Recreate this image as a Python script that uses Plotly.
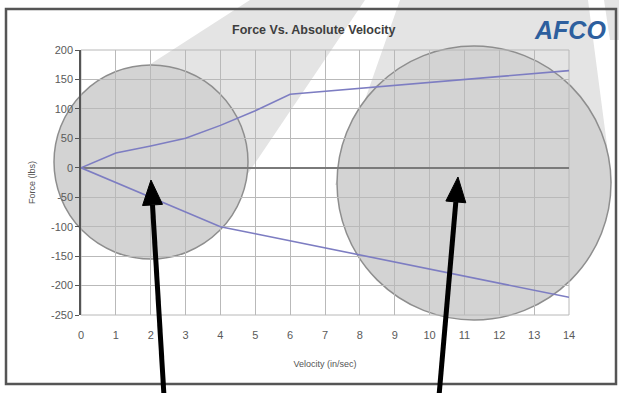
import plotly.graph_objects as go

# data
velocity = list(range(15))
force_rebound = [0, 25, 37, 50, 72, 97, 125, 130, 135, 140, 145, 150, 155, 160, 165]
force_compression = [0, -25, -50, -75, -100, -112, -124, -136, -148, -160, -172, -184, -196, -208, -220]
x_ticks = list(range(15))
y_ticks = [200, 150, 100, 50, 0, -50, -100, -150, -200, -250]

W, H = 619, 393
L, R, T, B = 81, 569, 50, 315  # plot area in pixels


def px(x, y):
    # pixel -> paper
    return (x - L) / (R - L), (B - y) / (B - T)


def poly(points):
    pts = [px(x, y) for x, y in points]
    return "M " + " L ".join(f"{a:.4f},{b:.4f}" for a, b in pts) + " Z"


def circle(cx, cy, r):
    x0, y0 = px(cx - r, cy + r)
    x1, y1 = px(cx + r, cy - r)
    return dict(type="circle", xref="paper", yref="paper", x0=x0, y0=y0, x1=x1, y1=y1,
                fillcolor="#d3d3d3", line=dict(color="#8e8e8e", width=1.5), layer="below")


def arrow(tip, tail, head=25, half=10):
    dx, dy = tail[0] - tip[0], tail[1] - tip[1]
    n = (dx * dx + dy * dy) ** 0.5
    ux, uy = dx / n, dy / n
    bx, by = tip[0] + head * ux, tip[1] + head * uy
    shaft = dict(type="path", xref="paper", yref="paper", layer="above",
                 path=poly([(bx, by), tail])[:-2], line=dict(color="black", width=5))
    tri = dict(type="path", xref="paper", yref="paper", layer="above",
               path=poly([tip, (bx - half * uy, by + half * ux), (bx + half * uy, by - half * ux)]),
               fillcolor="black", line=dict(color="black", width=1))
    return [shaft, tri]


beam = dict(type="path", xref="paper", yref="paper", fillcolor="#e4e4e4",
            line=dict(width=0), layer="below")
shapes = [
    {**beam, "path": poly([(250, 0), (365, 0), (245, 178), (151, 162), (76, 112)])},
    {**beam, "path": poly([(400, 0), (588, 0), (612, 183), (474, 183), (335, 185)])},
    {**beam, "path": poly([(604, 0), (619, 0), (619, 40), (610, 40)])},
    circle(151, 162, 97),
    circle(474, 183, 137),
    dict(type="rect", xref="paper", yref="paper", layer="below",
         x0=px(6, 0)[0], x1=px(616, 0)[0], y0=px(0, 384)[1], y1=px(0, 9)[1],
         line=dict(color="#555555", width=2.5)),
    dict(type="rect", xref="paper", yref="paper", layer="below",
         x0=0, x1=1, y0=0, y1=1, line=dict(color="#b8b8b8", width=1)),
]
shapes += arrow((151, 180), (164, 396))
shapes += arrow((458, 177), (439, 396))

fig = go.Figure()
fig.add_trace(go.Scatter(x=velocity, y=force_rebound, mode="lines",
                         line=dict(color="#7d7dc2", width=1.6)))
fig.add_trace(go.Scatter(x=velocity, y=force_compression, mode="lines",
                         line=dict(color="#7d7dc2", width=1.6)))

tick_font = dict(family="Liberation Sans, Arial", size=11, color="#5a5a5a")
title_font = dict(family="Liberation Sans, Arial", size=9, color="#555555")
fig.update_layout(
    width=W, height=H,
    margin=dict(l=L, r=W - R, t=T, b=H - B),
    paper_bgcolor="white",
    plot_bgcolor="rgba(0,0,0,0)",
    showlegend=False,
    shapes=shapes,
    xaxis=dict(range=[0, 14], tickvals=x_ticks, tickfont=tick_font,
               showgrid=True, gridcolor="#b9b9b9", gridwidth=1,
               zeroline=False, showline=False, ticks="", ticklabelstandoff=12,
               title=dict(text="Velocity (in/sec)", font=title_font, standoff=20)),
    yaxis=dict(range=[-250, 200], tickvals=y_ticks, ticktext=[str(v) for v in y_ticks],
               tickfont=tick_font,
               showgrid=True, gridcolor="#b9b9b9", gridwidth=1,
               zeroline=True, zerolinecolor="#7a7a7a", zerolinewidth=2,
               showline=True, linecolor="#555555", linewidth=1.5,
               ticks="outside", ticklen=4, tickcolor="#555555",
               title=dict(text="Force (lbs)", font=title_font, standoff=14)),
    annotations=[
        dict(text="<b>Force Vs. Absolute Velocity</b>", xref="paper", yref="paper",
             x=px(314, 0)[0], y=px(0, 30)[1], xanchor="center", yanchor="middle",
             showarrow=False,
             font=dict(family="Liberation Sans, Arial", size=12.5, color="#3e3e3e")),
        dict(text="<b><i>AFCO</i></b>", xref="paper", yref="paper",
             x=px(570, 0)[0], y=px(0, 30)[1], xanchor="center", yanchor="middle",
             showarrow=False,
             font=dict(family="Liberation Sans, Arial", size=25, color="#2d5f9e")),
    ],
)

fig.write_html("out.html", config={"displayModeBar": False},
               post_script="document.body.style.margin='0';")
